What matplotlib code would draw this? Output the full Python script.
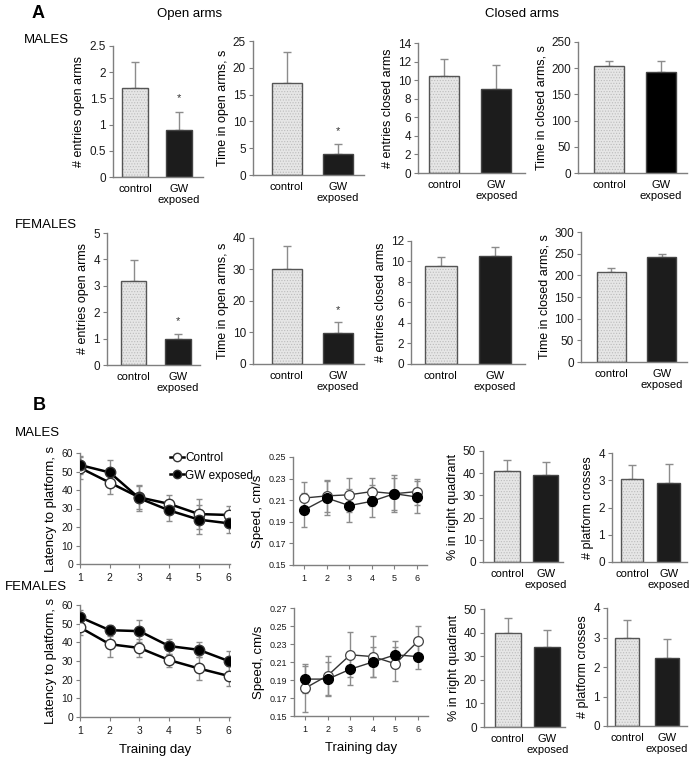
import matplotlib.pyplot as plt
import numpy as np

plt.rcParams['font.family'] = ['Liberation Sans', 'DejaVu Sans']
plt.rcParams['hatch.linewidth'] = 0.5

W, H = 692, 761

# ---   DATA   --- #
groups = ['control', 'GW\nexposed']

# Panel A, elevated plus maze (mean, sem)
m_entries_open = [1.7, 0.9];     m_entries_open_sem = [0.5, 0.35]
m_time_open = [17.1, 4.0];       m_time_open_sem = [5.9, 1.7]
m_entries_closed = [10.4, 9.1];  m_entries_closed_sem = [1.9, 2.5]
m_time_closed = [205, 192];      m_time_closed_sem = [9, 21]
f_entries_open = [3.2, 0.97];    f_entries_open_sem = [0.77, 0.21]
f_time_open = [30.2, 9.8];       f_time_open_sem = [7.3, 3.4]
f_entries_closed = [9.6, 10.5];  f_entries_closed_sem = [0.85, 0.9]
f_time_closed = [208, 242];      f_time_closed_sem = [8, 8]

# Panel B, water maze
days = [1, 2, 3, 4, 5, 6]
m_lat_ctrl = [52, 44, 36, 32.5, 27, 26.5]
m_lat_ctrl_sem = [6, 6, 6, 5, 8, 5]
m_lat_gw = [53.5, 49.5, 35.5, 29, 24, 22]
m_lat_gw_sem = [5, 6.5, 7, 5.5, 8, 5]
f_lat_ctrl = [48, 39, 37, 30.5, 26, 22]
f_lat_ctrl_sem = [4, 7, 5, 3.5, 6, 5.5]
f_lat_gw = [53.5, 46.5, 46, 38, 36, 30]
f_lat_gw_sem = [4, 3, 6, 4, 4, 5.5]

m_speed_ctrl = [0.212, 0.214, 0.215, 0.218, 0.216, 0.218]
m_speed_ctrl_sem = [0.015, 0.015, 0.016, 0.013, 0.017, 0.012]
m_speed_gw = [0.201, 0.212, 0.205, 0.209, 0.216, 0.213]
m_speed_gw_sem = [0.016, 0.016, 0.015, 0.015, 0.015, 0.015]
f_speed_ctrl = [0.181, 0.195, 0.218, 0.216, 0.208, 0.233]
f_speed_ctrl_sem = [0.027, 0.022, 0.025, 0.023, 0.019, 0.017]
f_speed_gw = [0.191, 0.191, 0.202, 0.210, 0.218, 0.216]
f_speed_gw_sem = [0.015, 0.019, 0.018, 0.017, 0.015, 0.014]

m_quadrant = [41, 39];   m_quadrant_sem = [5, 6]
m_crosses = [3.05, 2.9]; m_crosses_sem = [0.5, 0.7]
f_quadrant = [40, 34];   f_quadrant_sem = [6, 7]
f_crosses = [3.0, 2.3];  f_crosses_sem = [0.6, 0.65]

SPINE = '#7f7f7f'
ERR = '#8c8c8c'


# ---   METHODS   --- #
def add_ax(fig, x0, x1, y0, y1):
    # pixel box -> figure fraction
    return fig.add_axes([x0 / W, 1 - y1 / H, (x1 - x0) / W, (y1 - y0) / H])


def style(ax, fs=8.5):
    for s in ['top', 'right']:
        ax.spines[s].set_visible(False)
    for s in ['left', 'bottom']:
        ax.spines[s].set_color(SPINE)
        ax.spines[s].set_linewidth(1)
    ax.tick_params(axis='y', colors=SPINE, labelcolor='#1a1a1a',
                   labelsize=fs, length=3, width=0.8, pad=2)


def bar_panel(fig, box, vals, sem, ymax, ystep, ylabel, star=False,
              dark='#1c1c1c', width=0.58, xlim=(-0.5, 1.55), fs=8.5):
    ax = add_ax(fig, *box)
    x = np.arange(2)
    # stippled control bar + dark exposed bar
    ax.bar(x[0], vals[0], width, color='#e6e6e6', hatch='......',
           edgecolor='#bcbcbc', linewidth=0, zorder=2)
    ax.bar(x[0], vals[0], width, fill=False, edgecolor='#555555',
           linewidth=1, zorder=3)
    ax.bar(x[1], vals[1], width, color=dark, edgecolor='#444444',
           linewidth=1, zorder=2)
    ax.errorbar(x, vals, yerr=[[0, 0], sem], fmt='none', ecolor=ERR,
                elinewidth=1, capsize=3, capthick=1, zorder=1)
    if star:
        ax.text(x[1], vals[1] + sem[1] + 0.1 * ymax, '*', ha='center',
                va='center', fontsize=8, color='#333333')
    ax.set_xlim(*xlim)
    ax.set_ylim(0, ymax)
    ax.set_yticks(np.arange(0, ymax + ystep / 2, ystep))
    ax.yaxis.set_major_formatter(plt.FormatStrFormatter('%g'))
    ax.set_xticks(x)
    ax.set_xticklabels(groups, fontsize=fs - 0.5, va='top', linespacing=1.1)
    ax.tick_params(axis='x', length=0, pad=5)
    ax.set_ylabel(ylabel, fontsize=fs + 0.5, labelpad=3)
    style(ax, fs)
    return ax


def latency_panel(fig, box, ctrl, ctrl_sem, gw, gw_sem, legend=False,
                  xlabel=False):
    ax = add_ax(fig, *box)
    ax.errorbar(days, ctrl, yerr=ctrl_sem, fmt='none', ecolor=ERR,
                elinewidth=1, capsize=2, zorder=1)
    ax.errorbar(days, gw, yerr=gw_sem, fmt='none', ecolor=ERR,
                elinewidth=1, capsize=2, zorder=1)
    ax.plot(days, ctrl, '-o', color='black', lw=1.8, ms=7.5,
            mfc='white', mec='#333333', mew=1, zorder=3, label='Control')
    ax.plot(days, gw, '-o', color='black', lw=1.8, ms=7.5,
            mfc='black', mec='#333333', mew=1, zorder=3, label='GW exposed')
    ax.set_xlim(1, 6.05)
    ax.set_ylim(0, 60)
    ax.set_xticks(days)
    ax.set_yticks(np.arange(0, 61, 10))
    ax.tick_params(axis='x', colors=SPINE, labelcolor='#1a1a1a',
                   labelsize=7.5, length=3, width=0.8)
    ax.set_ylabel('Latency to platform, s', fontsize=9.5, labelpad=3)
    style(ax, 7.5)
    if legend:
        ax.legend(loc='upper left', bbox_to_anchor=(0.56, 1.06),
                  frameon=False, fontsize=8.5, handlelength=1.2,
                  handletextpad=0.1, borderpad=0, labelspacing=0.45,
                  markerscale=0.8)
    if xlabel:
        ax.set_xlabel('Training day', fontsize=9.5, labelpad=6)
    return ax


def speed_panel(fig, box, ctrl, ctrl_sem, gw, gw_sem, ymax, xlabel=False):
    ax = add_ax(fig, *box)
    ax.errorbar(days, ctrl, yerr=ctrl_sem, fmt='none', ecolor=ERR,
                elinewidth=1, capsize=2, zorder=1)
    ax.errorbar(days, gw, yerr=gw_sem, fmt='none', ecolor=ERR,
                elinewidth=1, capsize=2, zorder=1)
    ax.plot(days, ctrl, '-o', color='#333333', lw=1, ms=7,
            mfc='white', mec='#444444', mew=0.9, zorder=3)
    ax.plot(days, gw, '-o', color='#333333', lw=1, ms=7,
            mfc='black', mec='black', zorder=3)
    ax.set_xlim(0.5, 6.45)
    ax.set_ylim(0.15, ymax)
    ax.set_xticks(days)
    ax.set_yticks(np.arange(0.15, ymax + 0.001, 0.02))
    ax.yaxis.set_major_formatter(plt.FormatStrFormatter('%.2f'))
    ax.tick_params(axis='x', colors=SPINE, labelcolor='#1a1a1a',
                   labelsize=6.5, length=3, width=0.8)
    ax.set_ylabel('Speed, cm/s', fontsize=9.5, labelpad=3)
    style(ax, 6.5)
    if xlabel:
        ax.set_xlabel('Training day', fontsize=9.5, labelpad=6)
    return ax


# ---   MAIN   --- #
fig = plt.figure(figsize=(W / 100, H / 100), dpi=100)

# Panel A headings
fig.text(32 / W, 1 - 13 / H, 'A', fontsize=13, fontweight='bold', va='center')
fig.text(190 / W, 1 - 14 / H, 'Open arms', fontsize=9.5, ha='center', va='center')
fig.text(522 / W, 1 - 14 / H, 'Closed arms', fontsize=9.5, ha='center', va='center')
fig.text(24 / W, 1 - 40 / H, 'MALES', fontsize=9.5, va='center')
fig.text(15 / W, 1 - 225 / H, 'FEMALES', fontsize=9.5, va='center')

# Panel A males
bar_panel(fig, (113, 203, 46, 177), m_entries_open, m_entries_open_sem,
          2.5, 0.5, '# entries open arms', star=True)
bar_panel(fig, (253, 364, 41, 175), m_time_open, m_time_open_sem,
          25, 5, 'Time in open arms, s', star=True, xlim=(-0.65, 1.5))
bar_panel(fig, (418, 525, 43, 173), m_entries_closed, m_entries_closed_sem,
          14, 2, '# entries closed arms')
bar_panel(fig, (578, 687, 42, 173), m_time_closed, m_time_closed_sem,
          250, 50, 'Time in closed arms, s', dark='black', xlim=(-0.6, 1.5))

# Panel A females
bar_panel(fig, (107, 200, 233, 365), f_entries_open, f_entries_open_sem,
          5, 1, '# entries open arms', star=True, xlim=(-0.6, 1.5))
bar_panel(fig, (253, 364, 238, 364), f_time_open, f_time_open_sem,
          40, 10, 'Time in open arms, s', star=True, xlim=(-0.65, 1.5))
bar_panel(fig, (411, 525, 241, 364), f_entries_closed, f_entries_closed_sem,
          12, 2, '# entries closed arms', xlim=(-0.55, 1.55))
bar_panel(fig, (581, 687, 232, 362), f_time_closed, f_time_closed_sem,
          300, 50, 'Time in closed arms, s', xlim=(-0.6, 1.5))

# Panel B headings
fig.text(33 / W, 1 - 406 / H, 'B', fontsize=13, fontweight='bold', va='center')
fig.text(15 / W, 1 - 433 / H, 'MALES', fontsize=9.5, va='center')
fig.text(5 / W, 1 - 587 / H, 'FEMALES', fontsize=9.5, va='center')

# Panel B males
latency_panel(fig, (80, 230, 453, 564), m_lat_ctrl, m_lat_ctrl_sem,
              m_lat_gw, m_lat_gw_sem, legend=True)
speed_panel(fig, (293, 427, 457, 565), m_speed_ctrl, m_speed_ctrl_sem,
            m_speed_gw, m_speed_gw_sem, 0.25)
bar_panel(fig, (483, 563, 451, 562), m_quadrant, m_quadrant_sem,
          50, 10, '% in right quadrant', width=0.66, xlim=(-0.62, 1.45))
bar_panel(fig, (612, 687, 453, 562), m_crosses, m_crosses_sem,
          4, 1, '# platform crosses', width=0.62, xlim=(-0.55, 1.5))

# Panel B females
latency_panel(fig, (80, 230, 605, 717), f_lat_ctrl, f_lat_ctrl_sem,
              f_lat_gw, f_lat_gw_sem, xlabel=True)
speed_panel(fig, (294, 428, 608, 716), f_speed_ctrl, f_speed_ctrl_sem,
            f_speed_gw, f_speed_gw_sem, 0.27, xlabel=True)
bar_panel(fig, (484, 565, 609, 727), f_quadrant, f_quadrant_sem,
          50, 10, '% in right quadrant', width=0.66, xlim=(-0.6, 1.45))
bar_panel(fig, (607, 687, 608, 726), f_crosses, f_crosses_sem,
          4, 1, '# platform crosses', width=0.62, xlim=(-0.5, 1.5))

plt.savefig('out.png', dpi=100)
